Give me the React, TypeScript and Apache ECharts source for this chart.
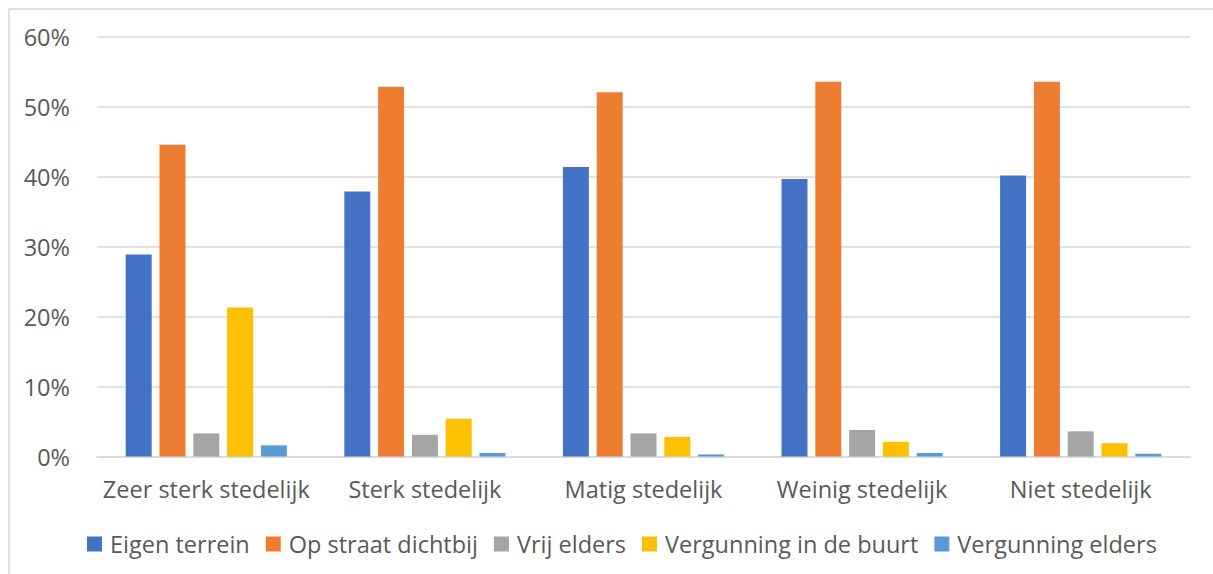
import React, { useEffect, useRef } from "react";
import * as echarts from "echarts";

const categories = ["Zeer sterk stedelijk", "Sterk stedelijk", "Matig stedelijk", "Weinig stedelijk", "Niet stedelijk"];
const seriesNames = ["Eigen terrein", "Op straat dichtbij", "Vrij elders", "Vergunning in de buurt", "Vergunning elders"];
const eigenTerrein = [28.9, 37.9, 41.4, 39.7, 40.2];
const opStraatDichtbij = [44.6, 52.9, 52.1, 53.6, 53.6];
const vrijElders = [3.3, 3.1, 3.3, 3.8, 3.6];
const vergunningBuurt = [21.3, 5.4, 2.8, 2.1, 1.9];
const vergunningElders = [1.6, 0.5, 0.3, 0.5, 0.4];
const colors = ["#4472C4", "#ED7D31", "#A5A5A5", "#FFC000", "#5B9BD5"];
const yTicks = [0, 10, 20, 30, 40, 50, 60];

export default function App() {
  const ref = useRef<HTMLDivElement>(null);
  useEffect(() => {
    if (!ref.current) return;
    const chart = echarts.init(ref.current, undefined, { renderer: "svg" });
    const values = [eigenTerrein, opStraatDichtbij, vrijElders, vergunningBuurt, vergunningElders];
    const font = "'Open Sans', 'Noto Sans', sans-serif";
    const fs = 23.5;
    chart.setOption({
      animation: false,
      color: colors,
      textStyle: { fontFamily: font },
      graphic: [
        {
          type: "rect",
          shape: { x: 9, y: 9, width: 1300, height: 700 },
          style: { fill: "none", stroke: "#D9D9D9", lineWidth: 1.5 },
          silent: true,
        },
      ],
      grid: { left: 97, right: 23, top: 37, bottom: 117.5, containLabel: false },
      legend: {
        data: seriesNames,
        left: 82,
        top: 527,
        itemWidth: 15,
        itemHeight: 15,
        itemGap: 16,
        icon: "rect",
        textStyle: { color: "#595959", fontSize: fs, fontFamily: font, padding: [0, 0, 0, 3] },
      },
      xAxis: {
        type: "category",
        data: categories,
        axisTick: { show: false },
        axisLine: { lineStyle: { color: "#D9D9D9", width: 1.5 } },
        axisLabel: { color: "#595959", fontSize: fs, fontFamily: font, margin: 20, interval: 0 },
      },
      yAxis: {
        type: "value",
        min: yTicks[0],
        max: yTicks[yTicks.length - 1],
        interval: 10,
        axisLine: { show: false },
        axisTick: { show: false },
        splitLine: { lineStyle: { color: "#D9D9D9", width: 1.5 } },
        axisLabel: { color: "#595959", fontSize: fs, fontFamily: font, margin: 27, formatter: "{value}%" },
      },
      series: seriesNames.map((name, i) => ({
        name,
        type: "bar",
        data: values[i],
        barWidth: 26,
        barGap: "30%",
        itemStyle: { color: colors[i] },
      })),
    });
    return () => chart.dispose();
  }, []);
  return <div ref={ref} style={{ position: "fixed", left: 0, top: 0, width: 1213, height: 574, background: "#fff" }} />;
}
